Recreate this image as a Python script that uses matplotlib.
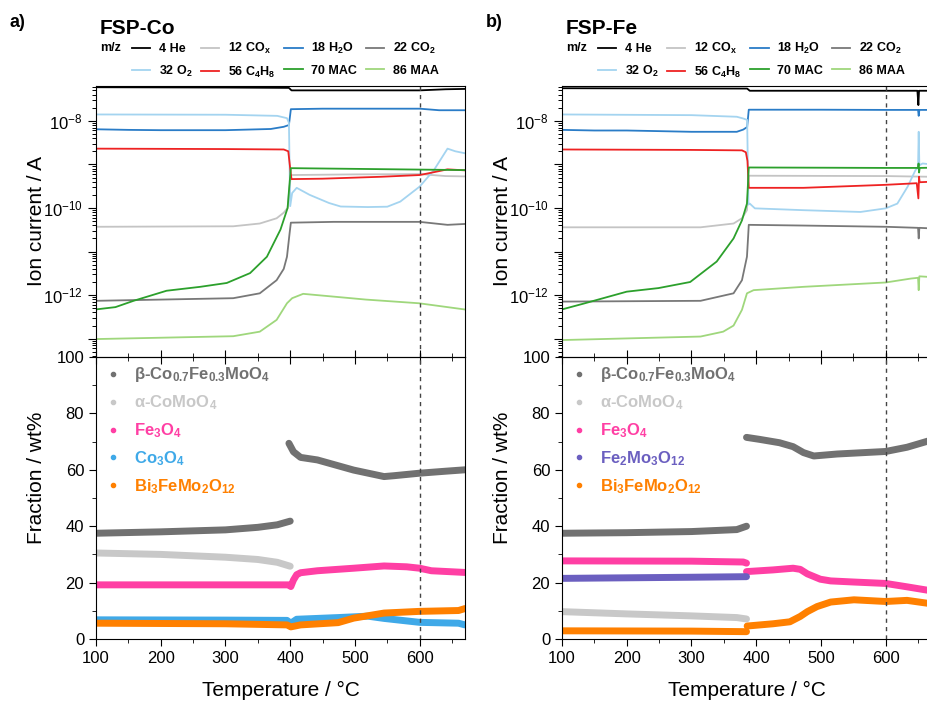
import matplotlib

matplotlib.use("Agg")
import matplotlib.pyplot as plt
from matplotlib.lines import Line2D
from matplotlib.ticker import FuncFormatter, LogLocator, MultipleLocator, NullFormatter
import numpy as np

plt.rcParams["font.family"] = ["Liberation Sans", "DejaVu Sans"]
plt.rcParams["mathtext.default"] = "regular"

# ---------------- ion currents (A) vs temperature (°C), FSP-Co ----------------
CO_HE_T = [100, 300, 398, 402, 600, 640, 670]
CO_HE_I = [5.9e-8, 5.8e-8, 5.7e-8, 5.0e-8, 5.0e-8, 5.3e-8, 5.4e-8]
CO_COX_T = [100, 312, 353, 379, 390, 396, 398.5, 401, 500, 600, 640, 670]
CO_COX_I = [3.7e-11, 3.8e-11, 4.4e-11, 5.8e-11, 7.8e-11, 1.0e-10, 2.5e-10, 5.7e-10, 5.9e-10, 6.0e-10, 5.4e-10, 5.3e-10]
CO_H2O_T = [100, 150, 200, 300, 370, 390, 398, 401, 450, 600, 630, 670]
CO_H2O_I = [6.4e-9, 6.2e-9, 6.1e-9, 6.1e-9, 6.5e-9, 7.3e-9, 8.0e-9, 1.85e-8, 1.9e-8, 1.9e-8, 1.75e-8, 1.75e-8]
CO_CO2_T = [100, 312, 353, 379, 390, 395, 399, 401, 467, 600, 643, 670]
CO_CO2_I = [7.4e-13, 8.5e-13, 1.1e-12, 2.2e-12, 4e-12, 7.6e-12, 2.6e-11, 4.6e-11, 4.8e-11, 4.8e-11, 4.1e-11, 4.3e-11]
CO_O2_T = [100, 300, 380, 395, 398, 400, 403, 410, 430, 460, 478, 520, 550, 570, 600, 622, 643, 655, 670]
CO_O2_I = [1.4e-8, 1.38e-8, 1.3e-8, 1.15e-8, 9e-9, 1.1e-10, 2.2e-10, 2.9e-10, 2.0e-10, 1.3e-10, 1.08e-10,
           1.05e-10, 1.07e-10, 1.4e-10, 3.1e-10, 7.4e-10, 2.3e-9, 2.0e-9, 1.8e-9]
CO_C4H8_T = [100, 300, 390, 397, 400, 402, 450, 540, 600, 617, 643, 670]
CO_C4H8_I = [2.3e-9, 2.25e-9, 2.2e-9, 2.0e-9, 8e-10, 4.6e-10, 4.7e-10, 5.2e-10, 5.7e-10, 6.4e-10, 7.7e-10, 7.3e-10]
CO_MAC_T = [100, 130, 158, 209, 261, 302, 338, 364, 385, 396, 398.5, 401, 500, 600, 670]
CO_MAC_I = [4.7e-13, 5.3e-13, 7.4e-13, 1.26e-12, 1.55e-12, 1.9e-12, 3.2e-12, 7.6e-12, 3.2e-11, 1.0e-10,
            3e-10, 8.2e-10, 7.9e-10, 7.6e-10, 7.4e-10]
CO_MAA_T = [100, 312, 353, 379, 395, 403, 420, 517, 599, 669]
CO_MAA_I = [9.8e-14, 1.14e-13, 1.45e-13, 2.7e-13, 6.5e-13, 8.5e-13, 1.07e-12, 7.9e-13, 6.5e-13, 4.7e-13]

# ---------------- ion currents (A) vs temperature (°C), FSP-Fe ----------------
FE_HE_T = [100, 386, 390, 649, 650.5, 651.5, 653, 670]
FE_HE_I = [5.6e-8, 5.5e-8, 4.9e-8, 4.9e-8, 2.3e-8, 4.9e-8, 4.9e-8, 4.9e-8]
FE_COX_T = [100, 314, 365, 378, 385.7, 387.5, 388.5, 600, 670]
FE_COX_I = [3.6e-11, 3.6e-11, 4.4e-11, 5.8e-11, 8.9e-11, 2.5e-10, 5.5e-10, 5.4e-10, 5.2e-10]
FE_H2O_T = [100, 150, 200, 250, 300, 370, 380, 386, 388.5, 500, 600, 650, 651, 652, 670]
FE_H2O_I = [6.2e-9, 6.0e-9, 6.0e-9, 5.8e-9, 5.6e-9, 5.6e-9, 6.3e-9, 7.2e-9, 1.8e-8, 1.8e-8, 1.78e-8,
            1.78e-8, 1.3e-8, 1.78e-8, 1.78e-8]
FE_CO2_T = [100, 314, 365, 378, 385.7, 387.5, 388.5, 473, 600, 650, 651, 652, 670]
FE_CO2_I = [7.1e-13, 7.4e-13, 1.1e-12, 2.2e-12, 7.6e-12, 2.2e-11, 4.1e-11, 3.95e-11, 3.7e-11, 3.5e-11,
            2.0e-11, 3.5e-11, 3.4e-11]
FE_O2_T = [100, 300, 370, 380, 386, 388, 390, 398, 473, 561, 600, 618, 634, 646, 650, 651, 652, 657, 670]
FE_O2_I = [1.4e-8, 1.35e-8, 1.24e-8, 1.13e-8, 1.05e-8, 1.2e-10, 1.26e-10, 9.8e-11, 8.9e-11, 8.1e-11, 9.8e-11,
           1.26e-10, 3.1e-10, 7.4e-10, 8.5e-10, 5.6e-9, 9.5e-10, 1.05e-9, 1.0e-9]
FE_C4H8_T = [100, 300, 378, 384, 386.5, 388.5, 473, 600, 648, 650.5, 651.5, 652.5, 670]
FE_C4H8_I = [2.2e-9, 2.15e-9, 2.1e-9, 1.9e-9, 1.2e-9, 2.9e-10, 2.9e-10, 3.4e-10, 3.7e-10, 1.66e-10,
             5.2e-10, 3.9e-10, 4.0e-10]
FE_MAC_T = [100, 132, 200, 249, 298, 339, 365, 378, 385.7, 387, 388.5, 500, 600, 650, 650.8, 651.6, 652.5, 670]
FE_MAC_I = [4.7e-13, 6.3e-13, 1.2e-12, 1.45e-12, 2.0e-12, 5.9e-12, 2.0e-11, 5.2e-11, 1.26e-10, 3e-10,
            8.5e-10, 8.4e-10, 8.3e-10, 8.3e-10, 1.05e-9, 6.5e-10, 8.3e-10, 8.4e-10]
FE_MAA_T = [100, 314, 349, 365, 378, 385.7, 396, 473, 600, 639, 650, 651, 652, 670]
FE_MAA_I = [9.3e-14, 1.12e-13, 1.45e-13, 2.0e-13, 4.6e-13, 1.1e-12, 1.3e-12, 1.55e-12, 1.95e-12, 2.4e-12,
            2.5e-12, 1.3e-12, 2.7e-12, 2.6e-12]

# ---------------- phase fractions (wt%), FSP-Co ----------------
CO_BETA1_T = [100, 200, 300, 350, 380, 400]
CO_BETA1_W = [37.5, 38.0, 38.7, 39.6, 40.5, 41.8]
CO_BETA2_T = [398, 405, 416, 442, 498, 545, 560, 600, 640, 670]
CO_BETA2_W = [69.4, 66.4, 64.4, 63.5, 59.9, 57.6, 57.9, 58.8, 59.5, 60.0]
CO_ALPHA_T = [100, 200, 300, 350, 380, 400]
CO_ALPHA_W = [30.5, 30.0, 29.0, 28.2, 27.2, 25.8]
CO_FE3O4_T = [100, 300, 398, 401, 405, 410, 416, 442, 498, 545, 580, 600, 618, 670]
CO_FE3O4_W = [19.2, 19.2, 19.2, 18.6, 20.9, 22.8, 23.5, 24.2, 25.1, 25.9, 25.6, 25.1, 24.2, 23.6]
CO_CO3O4_T = [100, 300, 395, 401, 410, 474, 520, 545, 600, 660, 670]
CO_CO3O4_W = [6.8, 6.7, 6.6, 5.6, 7.0, 7.6, 8.1, 7.3, 5.9, 5.6, 5.0]
CO_BI_T = [100, 300, 395, 401, 416, 474, 498, 545, 600, 660, 670]
CO_BI_W = [5.6, 5.4, 5.0, 4.3, 5.0, 5.8, 7.4, 9.2, 9.8, 10.1, 10.8]

# ---------------- phase fractions (wt%), FSP-Fe ----------------
FE_BETA1_T = [100, 200, 300, 370, 385]
FE_BETA1_W = [37.5, 37.7, 38.1, 38.8, 40.0]
FE_BETA2_T = [385, 405, 436, 457, 473, 489, 525, 600, 633, 670]
FE_BETA2_W = [71.5, 70.8, 69.6, 68.2, 66.1, 64.9, 65.6, 66.5, 68.0, 70.5]
FE_ALPHA_T = [100, 200, 300, 370, 385]
FE_ALPHA_W = [9.7, 8.9, 8.2, 7.6, 7.1]
FE_FE3O4_1_T = [100, 300, 380, 385]
FE_FE3O4_1_W = [27.7, 27.6, 27.3, 26.9]
FE_FE3O4_2_T = [385, 426, 457, 468, 479, 499, 515, 551, 600, 633, 670]
FE_FE3O4_2_W = [23.9, 24.5, 25.1, 24.7, 23.1, 21.2, 20.6, 20.2, 19.7, 18.5, 17.1]
FE_FE2MO3_T = [100, 200, 300, 385]
FE_FE2MO3_W = [21.5, 21.7, 21.9, 22.1]
FE_BI1_T = [100, 300, 385]
FE_BI1_W = [2.9, 2.8, 2.6]
FE_BI2_T = [386, 426, 452, 468, 479, 494, 515, 551, 600, 633, 670]
FE_BI2_W = [4.6, 5.4, 6.1, 8.0, 9.7, 11.5, 13.1, 13.9, 13.3, 13.7, 12.5]

MARK_T = 600

MZ_LABELS = ["4 He", "12 CO$_x$", "18 H$_2$O", "22 CO$_2$",
             "32 O$_2$", "56 C$_4$H$_8$", "70 MAC", "86 MAA"]
MZ_COLORS = ["#000000", "#c4c4c4", "#2a7cc7", "#787878",
             "#a4d4f0", "#ee2222", "#2ca02c", "#9fd77c"]

C_BETA = "#717171"
C_ALPHA = "#c8c8c8"
C_FE3O4 = "#ff3fa4"
C_CO3O4 = "#3fa9e8"
C_FE2MO3 = "#6b5fc0"
C_BI = "#ff8000"

L_BETA = "β-Co$_{0.7}$Fe$_{0.3}$MoO$_4$"
L_ALPHA = "α-CoMoO$_4$"
L_FE3O4 = "Fe$_3$O$_4$"
L_CO3O4 = "Co$_3$O$_4$"
L_FE2MO3 = "Fe$_2$Mo$_3$O$_{12}$"
L_BI = "Bi$_3$FeMo$_2$O$_{12}$"

W, H = 928, 704


def _even_decade(v, pos):
    e = int(round(np.log10(v)))
    return f"$10^{{{e}}}$" if e % 2 == 0 else ""


def draw_ms(ax, series):
    handles = []
    for (t, i), lab, col in zip(series, MZ_LABELS, MZ_COLORS):
        h, = ax.plot(t, i, color=col, lw=1.3, label=lab)
        handles.append(h)
    ax.axvline(MARK_T, color="#444444", lw=1, ls=(0, (3, 3)))
    ax.set_yscale("log")
    ax.set_xlim(100, 670)
    ax.set_ylim(3.8e-14, 6.3e-8)
    ax.yaxis.set_major_locator(LogLocator(base=10, numticks=20))
    ax.yaxis.set_minor_locator(LogLocator(base=10, subs=np.arange(2, 10), numticks=200))
    ax.yaxis.set_major_formatter(FuncFormatter(_even_decade))
    ax.yaxis.set_minor_formatter(NullFormatter())
    ax.xaxis.set_major_locator(MultipleLocator(100))
    ax.xaxis.set_minor_locator(MultipleLocator(50))
    ax.tick_params(axis="x", which="both", direction="out", labelbottom=False)
    ax.tick_params(axis="x", which="major", length=5)
    ax.tick_params(axis="x", which="minor", length=3)
    ax.tick_params(axis="y", which="major", direction="out", length=6, labelsize=12)
    ax.tick_params(axis="y", which="minor", direction="out", length=3, width=0.7)
    ax.set_ylabel("Ion current / A", fontsize=15)
    ax.yaxis.set_label_coords(-0.135, 0.5)
    ax.patch.set_visible(False)
    return handles


def draw_phases(ax, phases, legend_items):
    for t, w, col in phases:
        ax.plot(t, w, color=col, lw=5, solid_capstyle="round")
    ax.axvline(MARK_T, color="#444444", lw=1, ls=(0, (3, 3)))
    ax.set_xlim(100, 670)
    ax.set_ylim(0, 100)
    ax.xaxis.set_major_locator(MultipleLocator(100))
    ax.xaxis.set_minor_locator(MultipleLocator(50))
    ax.yaxis.set_major_locator(MultipleLocator(20))
    ax.yaxis.set_minor_locator(MultipleLocator(10))
    ax.tick_params(which="both", direction="out", top=True, labelsize=12)
    ax.tick_params(which="major", length=5)
    ax.tick_params(which="minor", length=3)
    ax.set_xlabel("Temperature / °C", fontsize=15)
    ax.set_ylabel("Fraction / wt%", fontsize=15)
    ax.xaxis.set_label_coords(0.5, -0.15)
    ax.yaxis.set_label_coords(-0.135, 0.57)
    ax.patch.set_visible(False)
    handles = [Line2D([], [], ls="", marker="o", ms=3, color=c) for _, c in legend_items]
    ax.legend(handles, [l for l, _ in legend_items], loc="upper left", frameon=False,
              labelcolor="linecolor", prop={"weight": "bold", "size": 12},
              handlelength=1.0, handletextpad=0.8, labelspacing=0.55,
              borderaxespad=0.3, borderpad=0.2)


def add_ms_legend(fig, handles, x0):
    order = [0, 4, 1, 5, 2, 6, 3, 7]
    fig.legend([handles[k] for k in order], [MZ_LABELS[k] for k in order], ncol=4,
               loc="upper left", bbox_to_anchor=((x0 + 36) / W, 1 - 41 / H),
               frameon=False, prop={"weight": "bold", "size": 9},
               handlelength=1.45, handletextpad=0.7, columnspacing=0.7,
               labelspacing=0.7, borderpad=0, borderaxespad=0)
    fig.text((x0 + 4) / W, 1 - 48 / H, "m/z", fontsize=9, fontweight="bold", va="center")


def main():
    fig = plt.figure(figsize=(W / 100, H / 100), dpi=100)

    co_ms = [(CO_HE_T, CO_HE_I), (CO_COX_T, CO_COX_I), (CO_H2O_T, CO_H2O_I), (CO_CO2_T, CO_CO2_I),
             (CO_O2_T, CO_O2_I), (CO_C4H8_T, CO_C4H8_I), (CO_MAC_T, CO_MAC_I), (CO_MAA_T, CO_MAA_I)]
    fe_ms = [(FE_HE_T, FE_HE_I), (FE_COX_T, FE_COX_I), (FE_H2O_T, FE_H2O_I), (FE_CO2_T, FE_CO2_I),
             (FE_O2_T, FE_O2_I), (FE_C4H8_T, FE_C4H8_I), (FE_MAC_T, FE_MAC_I), (FE_MAA_T, FE_MAA_I)]

    co_phases = [(CO_BETA1_T, CO_BETA1_W, C_BETA), (CO_BETA2_T, CO_BETA2_W, C_BETA),
                 (CO_ALPHA_T, CO_ALPHA_W, C_ALPHA), (CO_FE3O4_T, CO_FE3O4_W, C_FE3O4),
                 (CO_CO3O4_T, CO_CO3O4_W, C_CO3O4), (CO_BI_T, CO_BI_W, C_BI)]
    fe_phases = [(FE_BETA1_T, FE_BETA1_W, C_BETA), (FE_BETA2_T, FE_BETA2_W, C_BETA),
                 (FE_ALPHA_T, FE_ALPHA_W, C_ALPHA), (FE_FE3O4_1_T, FE_FE3O4_1_W, C_FE3O4),
                 (FE_FE3O4_2_T, FE_FE3O4_2_W, C_FE3O4), (FE_FE2MO3_T, FE_FE2MO3_W, C_FE2MO3),
                 (FE_BI1_T, FE_BI1_W, C_BI), (FE_BI2_T, FE_BI2_W, C_BI)]

    co_leg = [(L_BETA, C_BETA), (L_ALPHA, C_ALPHA), (L_FE3O4, C_FE3O4), (L_CO3O4, C_CO3O4), (L_BI, C_BI)]
    fe_leg = [(L_BETA, C_BETA), (L_ALPHA, C_ALPHA), (L_FE3O4, C_FE3O4), (L_FE2MO3, C_FE2MO3), (L_BI, C_BI)]

    panels = [("a)", "FSP-Co", 96, co_ms, co_phases, co_leg, 10),
              ("b)", "FSP-Fe", 562, fe_ms, fe_phases, fe_leg, 486)]
    ax_w = 369 / W
    for tag, title, x0, ms, phases, leg, tag_x in panels:
        ax_up = fig.add_axes([x0 / W, 1 - 357 / H, ax_w, 271 / H])
        ax_lo = fig.add_axes([x0 / W, 1 - 639 / H, ax_w, 282 / H])
        handles = draw_ms(ax_up, ms)
        draw_phases(ax_lo, phases, leg)
        add_ms_legend(fig, handles, x0)
        fig.text((x0 + 4) / W, 1 - 34 / H, title, fontsize=15, fontweight="bold", va="baseline")
        fig.text(tag_x / W, 1 - 27 / H, tag, fontsize=13, fontweight="bold", va="baseline")

    fig.savefig("out.png", dpi=100)
    plt.close(fig)


if __name__ == "__main__":
    main()
